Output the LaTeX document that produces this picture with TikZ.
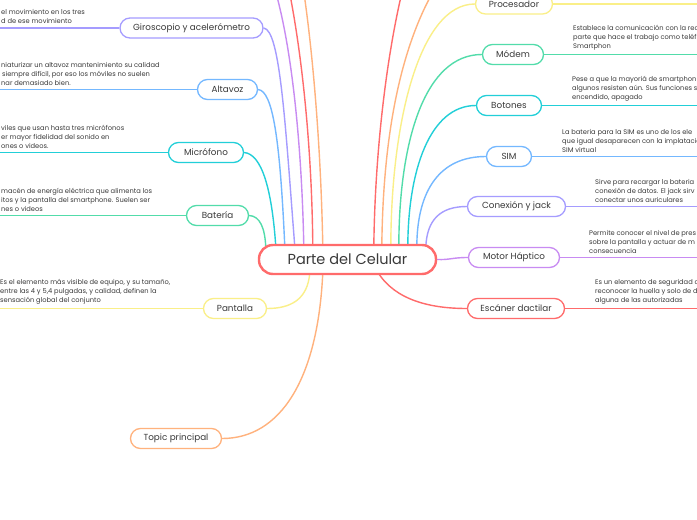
\documentclass[tikz,border=0pt]{standalone}
\usepackage{fontspec}
\setmainfont{Poppins}
\usetikzlibrary{calc}
\definecolor{cred}{HTML}{FF6B6B}
\definecolor{corange}{HTML}{FFB27D}
\definecolor{cyellow}{HTML}{FAEF88}
\definecolor{cgreen}{HTML}{52DCAA}
\definecolor{ccyan}{HTML}{22CFD8}
\definecolor{cblue}{HTML}{74B8FF}
\definecolor{clav}{HTML}{A59CFF}
\definecolor{cpurple}{HTML}{C88BF2}
\definecolor{ctext}{HTML}{3A3A3A}
\pgfdeclarelayer{bg}
\pgfdeclarelayer{edges}
\pgfsetlayers{bg,edges,main}
\begin{document}
\begin{tikzpicture}[x=1pt,y=-1pt,
  topic/.style={draw, fill=white, rounded corners=10pt, line width=1.3pt,
    minimum height=20pt, inner sep=0pt, text=ctext,
    font=\fontsize{8.8}{10}\selectfont},
  mainnode/.style={draw=cred, fill=white, rounded corners=14pt, line width=2.4pt,
    minimum width=177pt, minimum height=29pt, inner sep=0pt, text=ctext,
    font=\fontsize{14.5}{16}\selectfont},
  desc/.style={align=left, inner sep=0pt, text=ctext, anchor=south west,
    font=\fontsize{6.7}{9}\selectfont},
  branch/.style={line width=1.4pt}]
\clip (0,0) rectangle (697,520);
\begin{pgfonlayer}{bg}
\fill[white] (0,0) rectangle (697,520);
\end{pgfonlayer}

% central node
\node[mainnode] (c) at (347.5,259.5) {Parte del Celular};

% left topics
\node[topic, draw=clav, minimum width=143pt] (giro) at (191.5,28) {Giroscopio y acelerómetro};
\node[topic, draw=cblue, minimum width=60pt] (alta) at (227.5,89.5) {Altavoz};
\node[topic, draw=ccyan, minimum width=75pt] (micro) at (206,152.5) {Micrófono};
\node[topic, draw=cgreen, minimum width=62pt] (bate) at (217.5,215.5) {Batería};
\node[topic, draw=cyellow, minimum width=63pt] (pant) at (235,308.5) {Pantalla};
\node[topic, draw=corange, minimum width=91pt] (topic) at (176,438.5) {Topic principal};

% right topics
\node[topic, draw=cyellow, minimum width=77pt] (proc) at (514,4) {Procesador};
\node[topic, draw=cgreen, minimum width=61pt] (mod) at (513,54.5) {Módem};
\node[topic, draw=ccyan, minimum width=65pt] (boto) at (509,105.5) {Botones};
\node[topic, draw=cblue, minimum width=45pt] (sim) at (509,156.5) {SIM};
\node[topic, draw=clav, minimum width=98pt] (conx) at (516.5,206.5) {Conexión y jack};
\node[topic, draw=cpurple, minimum width=91pt] (moto) at (514,257.5) {Motor Háptico};
\node[topic, draw=cred, minimum width=97pt] (esca) at (516,308.5) {Escáner dactilar};

% descriptions (left)
\node[desc] (giroT) at (1,24) {el movimiento en los tres\\d de ese movimiento};
\node[desc] (altaT) at (1,86) {niaturizar un altavoz mantenimiento su calidad\\\hspace*{1pt}siempre difícil, por eso los móviles no suelen\\nar demasiado bien.};
\node[desc] (microT) at (1,149) {viles que usan hasta tres micrófonos\\er mayor fidelidad del sonido en\\ones o videos.};
\node[desc] (bateT) at (1,212) {macén de energía eléctrica que alimenta los\\itos y la pantalla del smartphone. Suelen ser\\nes o videos};
\node[desc] (pantT) at (0,305) {Es el elemento más visible de equipo, y su tamaño,\\entre las 4 y 5,4 pulgadas, y calidad, definen la\\sensación global del conjunto};

% descriptions (right)
\node[desc] (modT) at (573,50.5) {Establece la comunicación con la red\\parte que hace el trabajo como teléf\\Smartphon};
\node[desc] (botoT) at (572,101.5) {Pese a que la mayoriá de smartphon\\algunos resisten aún. Sus funciones s\\encendido, apagado};
\node[desc] (simT) at (562,152.5) {La bateria para la SIM es uno de los ele\\que igual desaparecen con la implatacio\\SIM virtual};
\node[desc] (conxT) at (595,202.5) {Sirve para recargar la bateria\\conexión de datos. El jack sirv\\conectar unos auriculares};
\node[desc] (motoT) at (589,253.5) {Permite conocer el nivel de pres\\sobre la pantalla y actuar de m\\consecuencia};
\node[desc] (escaT) at (595,304.5) {Es un elemento de seguridad q\\reconocer la huella y solo de d\\alguna de las autorizadas};

% free ends
\coordinate (giroL) at (0,28);
\coordinate (altaL) at (0,89.5);
\coordinate (microL) at (0,152.5);
\coordinate (bateL) at (0,215.5);
\coordinate (pantL) at (0,308.5);
\coordinate (procR) at (697,4);
\coordinate (modR) at (697,54.5);
\coordinate (botoR) at (697,105.5);
\coordinate (simR) at (697,156.5);
\coordinate (conxR) at (697,206.5);
\coordinate (motoR) at (697,257.5);
\coordinate (escaR) at (697,308.5);
\coordinate (up1) at (272,-20);
\coordinate (up2) at (287,-20);
\coordinate (up3) at (302,-20);
\coordinate (up4) at (405,-20);
\coordinate (up5) at (440,-20);

\begin{pgfonlayer}{edges}
% side lines
\draw[branch,clav] (giro.west) -- (giroL);
\draw[branch,cblue] (alta.west) -- (altaL);
\draw[branch,ccyan] (micro.west) -- (microL);
\draw[branch,cgreen] (bate.west) -- (bateL);
\draw[branch,cyellow] (pant.west) -- (pantL);
\draw[branch,cyellow] (proc.east) -- (procR);
\draw[branch,cgreen] (mod.east) -- (modR);
\draw[branch,ccyan] (boto.east) -- (botoR);
\draw[branch,cblue] (sim.east) -- (simR);
\draw[branch,clav] (conx.east) -- (conxR);
\draw[branch,cpurple] (moto.east) -- (motoR);
\draw[branch,cred] (esca.east) -- (escaR);

% left branches from top of centre
\draw[branch,cgreen] (bate.east) .. controls (260,216) and (265,228) .. ($(c.north west)+(8,4)$);
\draw[branch,ccyan] (micro.east) .. controls (262,154) and (272,190) .. ($(c.north west)+(18,3)$);
\draw[branch,cblue] (alta.east) .. controls (273,91) and (280,140) .. ($(c.north west)+(27,3)$);
\draw[branch,clav] (giro.east) .. controls (280,30) and (285,120) .. ($(c.north west)+(37,3)$);
\draw[branch,cpurple] ($(c.north west)+(46,3)$) .. controls (302,150) and (292,40) .. (up1);
\draw[branch,cred] ($(c.north west)+(55,3)$) .. controls (312,150) and (302,50) .. (up2);
\draw[branch,corange] ($(c.north west)+(65,3)$) .. controls (321,150) and (313,50) .. (up3);

% right branches from top of centre
\draw[branch,cred] ($(c.north west)+(116,3)$) .. controls (375,150) and (387,50) .. (up4);
\draw[branch,corange] ($(c.north west)+(124,3)$) .. controls (383,130) and (402,40) .. (up5);
\draw[branch,cyellow] ($(c.north west)+(133,3)$) .. controls (391,120) and (420,4) .. (proc.west);
\draw[branch,cgreen] ($(c.north west)+(141,3)$) .. controls (399,140) and (425,54.5) .. (mod.west);
\draw[branch,ccyan] ($(c.north west)+(150,3)$) .. controls (408,170) and (430,105.5) .. (boto.west);
\draw[branch,cblue] ($(c.north west)+(159,3)$) .. controls (417,190) and (440,156.5) .. (sim.west);
\draw[branch,clav] ($(c.north west)+(168,3)$) .. controls (427,220) and (440,206.5) .. (conx.west);

% other branches
\draw[branch,cpurple] (c.east) .. controls (450,260) and (452,257.5) .. (moto.west);
\draw[branch,cred] ($(c.south west)+(120,-3)$) .. controls (395,300) and (430,308.5) .. (esca.west);
\draw[branch,cyellow] ($(c.south west)+(52,-3)$) .. controls (308,300) and (290,308.5) .. (pant.east);
\draw[branch,corange] ($(c.south west)+(65,-3)$) .. controls (318,380) and (280,438.5) .. (topic.east);
\end{pgfonlayer}
\end{tikzpicture}
\end{document}
